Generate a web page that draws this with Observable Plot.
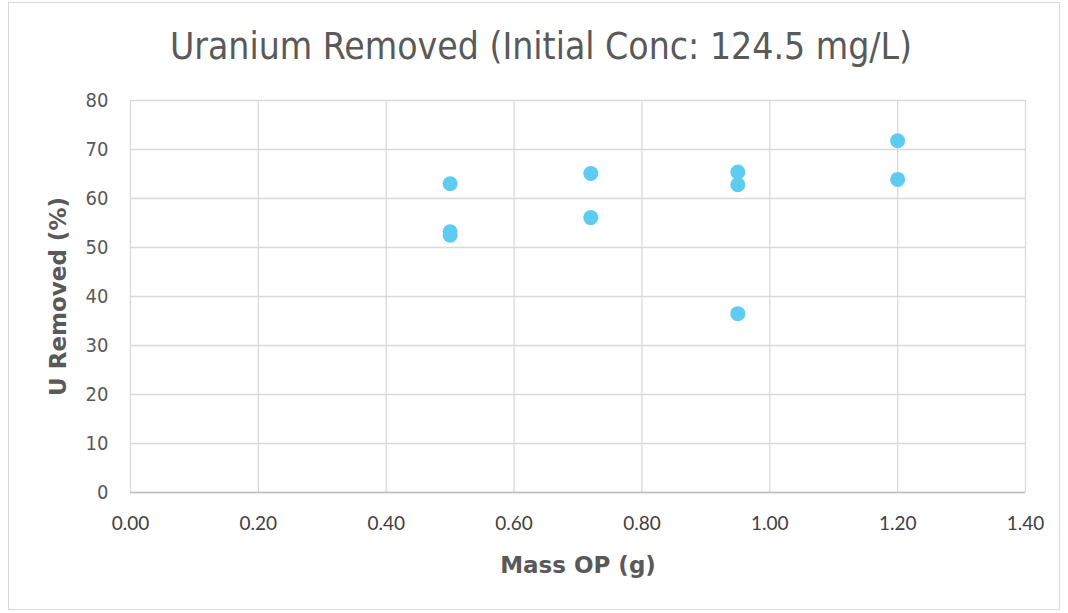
<!DOCTYPE html>
<html><head><meta charset="utf-8">
<script src="https://cdn.jsdelivr.net/npm/d3@7"></script>
<script src="https://cdn.jsdelivr.net/npm/@observablehq/plot@0.6"></script>
<style>
body{margin:0;background:#fff;}
#wrap{position:relative;width:1068px;height:613px;overflow:hidden;}
#frame{position:absolute;left:8px;top:2px;width:1052px;height:608px;border:1px solid #d9d9d9;box-sizing:border-box;}
#title{position:absolute;left:0;width:1082px;top:25px;text-align:center;font-family:"DejaVu Sans Condensed","DejaVu Sans",sans-serif;font-stretch:condensed;font-size:37px;color:#595959;line-height:44px;}
#chart{position:absolute;left:0;top:0;}
</style></head><body>
<div id="wrap"><div id="frame"></div><div id="title">Uranium Removed (Initial Conc: 124.5 mg/L)</div><div id="chart"></div></div>
<script>
const massOP = [0.50, 0.50, 0.50, 0.72, 0.72, 0.95, 0.95, 0.95, 1.20, 1.20];
const uRemoved = [63.0, 53.2, 52.5, 65.1, 56.1, 65.4, 62.8, 36.5, 71.8, 63.9];
const xTicks = [0, 0.2, 0.4, 0.6, 0.8, 1.0, 1.2, 1.4];
const yTicks = [0, 10, 20, 30, 40, 50, 60, 70, 80];
const data = massOP.map((m, i) => ({m, u: uRemoved[i]}));
const condensed = '"DejaVu Sans Condensed","DejaVu Sans",sans-serif';
const plot = Plot.plot({
  width: 1068, height: 613,
  marginLeft: 130, marginRight: 43, marginTop: 100, marginBottom: 121,
  style: {fontFamily: "Lato, sans-serif", fontSize: "19px", color: "#595959", background: "transparent", overflow: "visible"},
  x: {domain: [0, 1.4], label: null},
  y: {domain: [0, 80], label: null},
  marks: [
    Plot.gridX(xTicks, {stroke: "#d9d9d9", strokeOpacity: 1, strokeWidth: 1.3}),
    Plot.gridY(yTicks, {stroke: "#d9d9d9", strokeOpacity: 1, strokeWidth: 1.3}),
    Plot.ruleY([0], {stroke: "#bfbfbf", strokeWidth: 1.5}),
    Plot.axisX({ticks: xTicks, tickFormat: d => d.toFixed(2), tickSize: 0, tickPadding: 24, label: null, fill: "#404040", fontFamily: "Lato, sans-serif", fontSize: 19}),
    Plot.axisY({ticks: yTicks, tickSize: 0, tickPadding: 22, label: null, fill: "#595959", fontFamily: condensed, fontSize: 20}),
    Plot.dot(data, {x: "m", y: "u", r: 7.5, fill: "#5ECBF0", stroke: null}),
    Plot.text(["Mass OP (g)"], {frameAnchor: "bottom", lineAnchor: "middle", dy: 73, fontSize: 23, fontWeight: "bold", fontFamily: "DejaVu Sans, sans-serif", fill: "#595959", text: d => d}),
    Plot.text(["U Removed (%)"], {frameAnchor: "left", textAnchor: "middle", lineAnchor: "middle", dx: -72, rotate: -90, fontSize: 23, fontWeight: "bold", fontFamily: "DejaVu Sans, sans-serif", fill: "#595959", text: d => d})
  ]
});
document.getElementById("chart").appendChild(plot);
</script>
</body></html>
